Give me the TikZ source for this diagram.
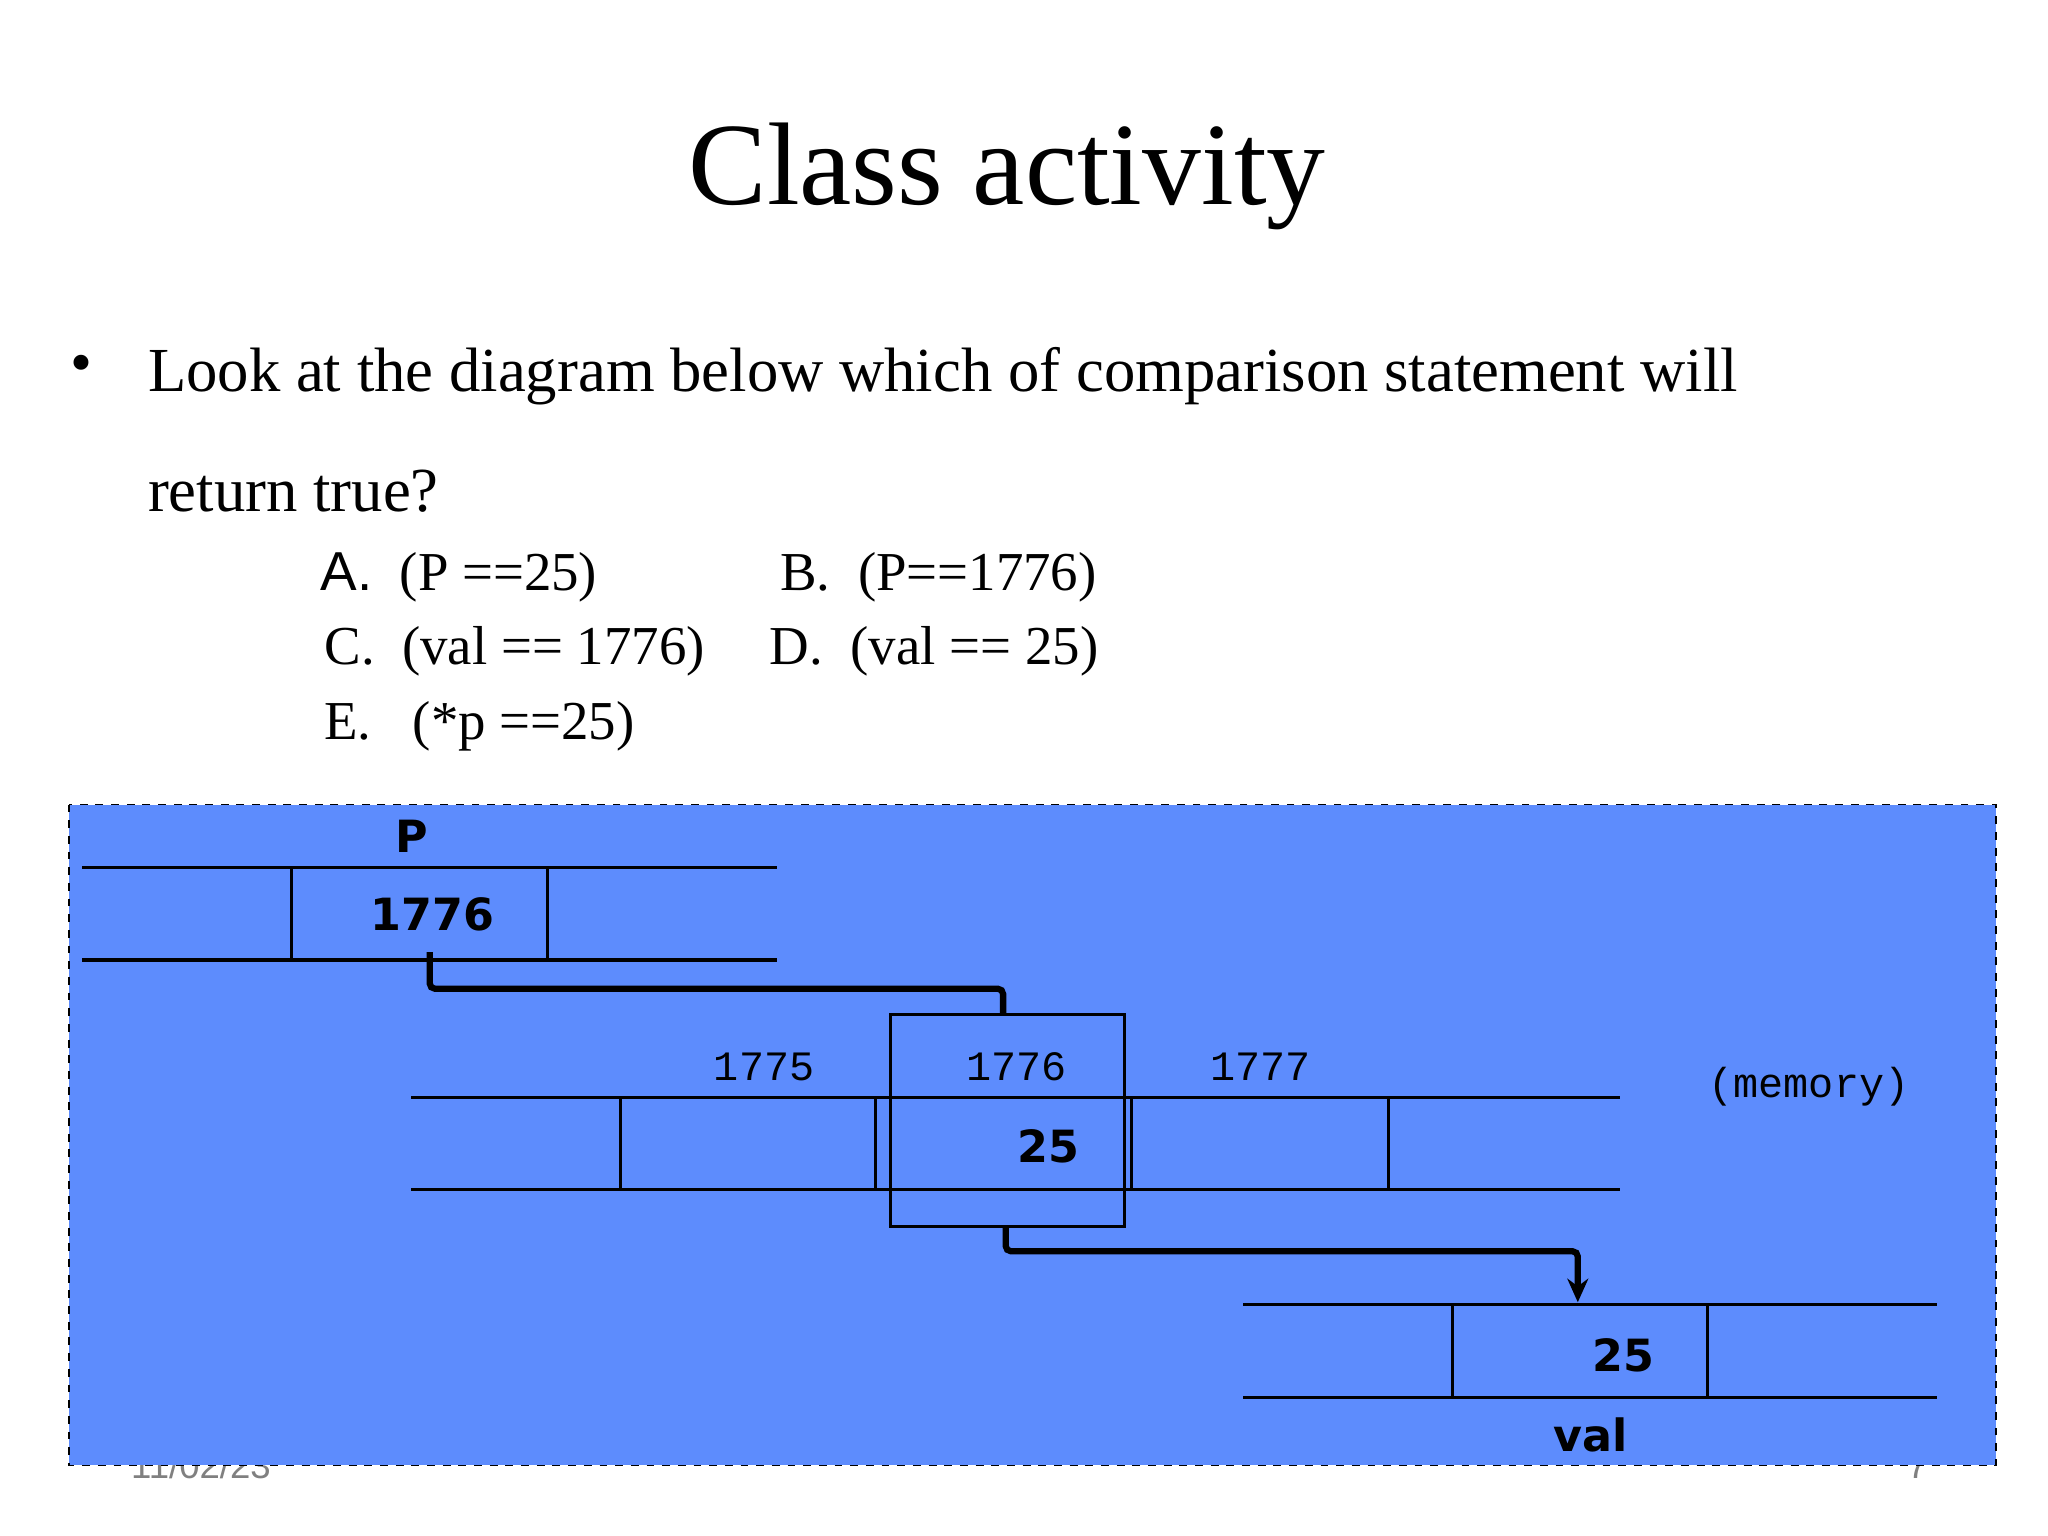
\documentclass[tikz,border=0pt]{standalone}
\usepackage{fontspec}
\setmainfont{Liberation Serif}
\newfontfamily\vfont{DejaVu Sans}
\newfontfamily\mfont{Liberation Mono}
\newfontfamily\afont{Liberation Sans}
\usetikzlibrary{arrows.meta}
\definecolor{bgblue}{RGB}{93,140,253}
\begin{document}
\begin{tikzpicture}[x=0.5pt,y=-0.5pt,
  cell/.style={draw=black,line width=1.2pt},
  ptr/.style={draw=black,line width=2.4pt,rounded corners=2pt},
  num/.style={font=\vfont\bfseries\fontsize{17}{20}\selectfont,inner sep=0},
  addr/.style={font=\mfont\fontsize{16}{19}\selectfont,inner sep=0},
  opt/.style={anchor=base west,inner sep=0,font=\fontsize{21}{25}\selectfont}]
\useasboundingbox (0,0) rectangle (1568,1176);
\fill[white] (0,0) rectangle (1568,1176);
\node[font=\fontsize{45}{54}\selectfont] (title) at (771,135) {Class activity};
\node[inner sep=0,font=\fontsize{24}{28}\selectfont] (bul) at (62,283) {•};
\node[anchor=base west,inner sep=0,font=\fontsize{24}{28}\selectfont,text width=698pt,align=justify] (q) at (113,300)
 {Look at the diagram below which of comparison statement will\\[18pt] return true?};
\node[opt] (oa) at (245,452) {{\afont A.}\ \ (P ==25)};
\node[opt] (ob) at (597,452) {B.\ \ (P==1776)};
\node[opt] (oc) at (248,509) {C.\ \ (val == 1776)};
\node[opt] (od) at (589,509) {D.\ \ (val == 25)};
\node[opt] (oe) at (248,566) {E.\ \ \ (*p ==25)};
\node[anchor=base west,text=gray,font=\afont\fontsize{14}{16}\selectfont,inner sep=0] (date) at (100,1132) {11/02/23};
\node[anchor=base west,text=gray,font=\afont\fontsize{14}{16}\selectfont,inner sep=0] (pg) at (1460,1132) {7};
\draw[fill=bgblue,dashed,line width=0.7pt] (53,616) rectangle (1528,1122);
% P row
\draw[cell] (63,664) -- (595,664) (63,735) -- (595,735) (223,664) -- (223,735) (419,664) -- (419,735);
\node[num] (plab) at (315,640) {P};
\node[num] (pval) at (331,700) {1776};
% memory row
\draw[cell] (315,840) -- (1240,840) (315,911) -- (1240,911)
  (475,840) -- (475,911) (670,840) -- (670,911) (866,840) -- (866,911) (1063,840) -- (1063,911);
\draw[cell] (682,777) rectangle (861,939);
\coordinate (boxtop) at (768,777);
\coordinate (boxbot) at (770,939);
\node[addr] (a1) at (585,817) {1775};
\node[addr] (a2) at (778,817) {1776};
\node[addr] (a3) at (965,817) {1777};
\node[num] (mval) at (803,878) {25};
\node[addr] (memlab) at (1385,832) {(memory)};
% val row
\draw[cell] (952,999) -- (1483,999) (952,1070) -- (1483,1070) (1112,999) -- (1112,1070) (1307,999) -- (1307,1070);
\coordinate (valtop) at (1208,997);
\node[num] (vval) at (1243,1038) {25};
\node[num] (vlab) at (1218,1099) {val};
% pointers
\coordinate (pbot) at (329,729);
\draw[ptr] (pbot) |- (768,757) -- (boxtop);
\draw[ptr,-{Stealth[length=9pt,width=8pt]}] (boxbot) |- (1208,958) -- (valtop);
\end{tikzpicture}
\end{document}
